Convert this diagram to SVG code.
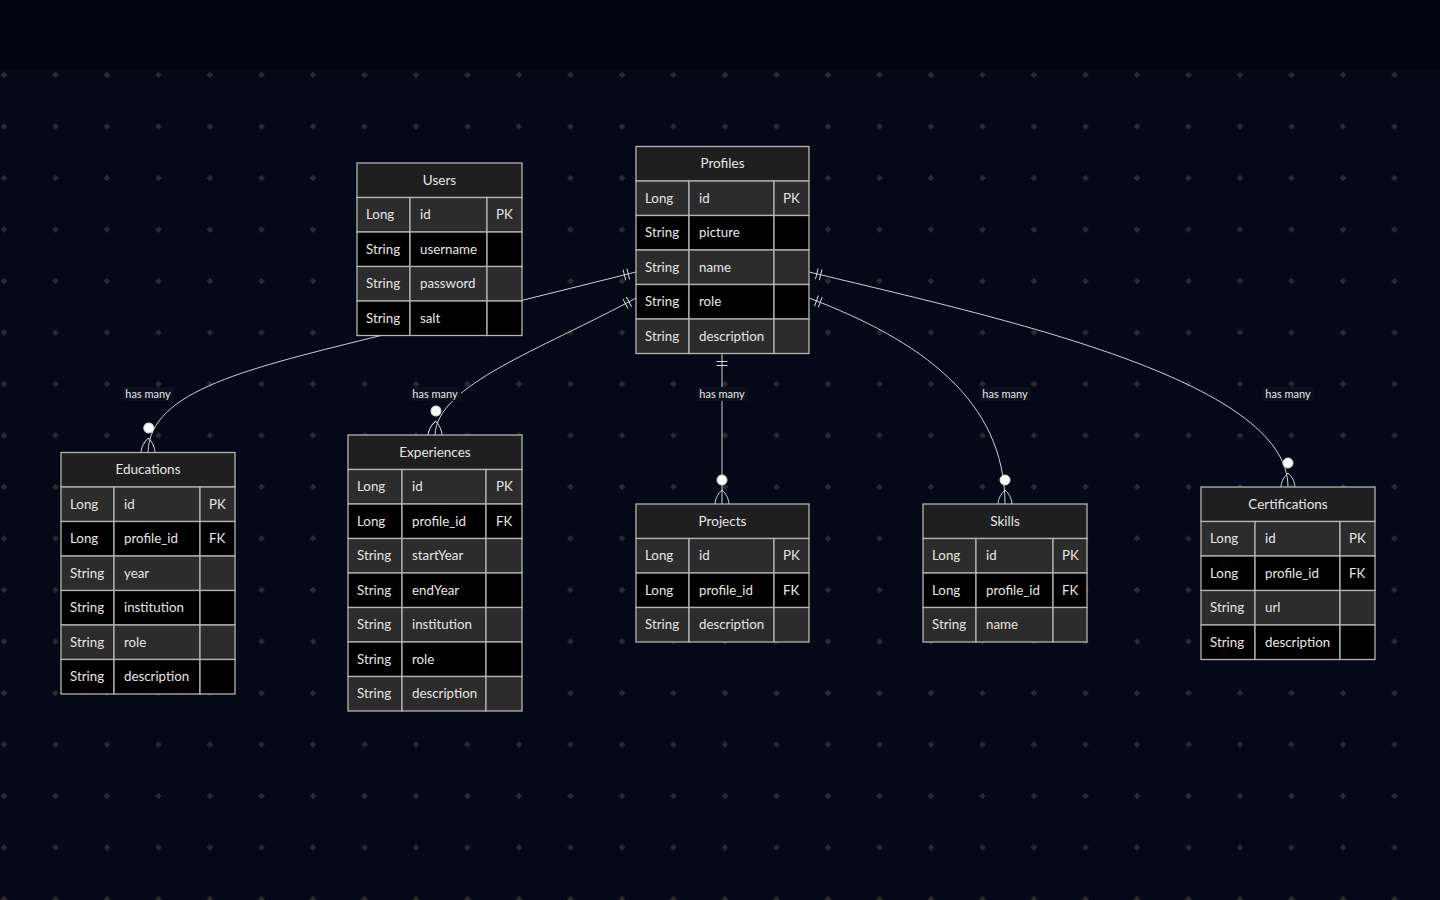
<svg xmlns="http://www.w3.org/2000/svg" width="1440" height="900" viewBox="0 0 1440 900">
<defs>
<style>
.hd{fill:#1f1f1f;stroke:#b4b4b4;stroke-width:1.3}
.o{fill:#2c2c2c;stroke:#b4b4b4;stroke-width:1.3}
.e{fill:#000;stroke:#b4b4b4;stroke-width:1.3}
text{font-family:"Lato","Open Sans","DejaVu Sans",sans-serif;fill:#e6e6e6}
.th{font-size:13.5px;text-anchor:middle}
.td{font-size:13.3px}
.lbl{font-size:11px;text-anchor:middle;fill:#e8e8e8}
.lb{fill:#0c0f1e}
.rel{fill:none;stroke:#cfcfcf;stroke-width:1;marker-start:url(#one);marker-end:url(#zmany)}
</style>
<pattern id="dots" x="-21.75" y="49.25" width="51.5" height="51.5" patternUnits="userSpaceOnUse">
<path d="M25.75,22.5 L29,25.75 L25.75,29 L22.5,25.75Z" fill="#2c2c2e"/>
</pattern>
<marker id="one" markerUnits="userSpaceOnUse" markerWidth="20" markerHeight="16" refX="0" refY="8" orient="auto" overflow="visible">
<path d="M8,2.5 L8,13.5 M12,2.5 L12,13.5" stroke="#d8d8d8" stroke-width="1" fill="none"/>
</marker>
<marker id="zmany" markerUnits="userSpaceOnUse" markerWidth="30" markerHeight="16" refX="24" refY="8" orient="auto" overflow="visible">
<path d="M24,1 C17,1.5 13,5 10,8 M24,15 C17,14.5 13,11 10,8" stroke="#d8d8d8" stroke-width="1" fill="none"/>
<circle cx="0" cy="8" r="5" fill="#ffffff" stroke="#d8d8d8" stroke-width="1"/>
</marker>
</defs>
<rect x="0" y="0" width="1440" height="900" fill="#050817"/>
<rect x="0" y="0" width="1440" height="70" fill="#03040f"/>
<rect x="0" y="70" width="1440" height="830" fill="url(#dots)"/>

<g id="connectors">
<path class="rel" d="M636,272 L383,335 C250,368 150,390 148,452"/>
<path class="rel" d="M636,298 C540,350 437,385 435,435"/>
<path class="rel" d="M722,353.5 L722,504"/>
<path class="rel" d="M809,298 C920,340 1005,400 1005,504"/>
<path class="rel" d="M809,272 C1000,318 1288,380 1288,487"/>
<rect class="lb" x="122" y="387" width="52" height="14"/><text class="lbl" x="148" y="398">has many</text>
<rect class="lb" x="409" y="387" width="52" height="14"/><text class="lbl" x="435" y="398">has many</text>
<rect class="lb" x="696" y="387" width="52" height="14"/><text class="lbl" x="722" y="398">has many</text>
<rect class="lb" x="979" y="387" width="52" height="14"/><text class="lbl" x="1005" y="398">has many</text>
<rect class="lb" x="1262" y="387" width="52" height="14"/><text class="lbl" x="1288" y="398">has many</text>
</g>

<g id="users">
<rect class="hd" x="357" y="163" width="165" height="34.5"/>
<text class="th" x="439.5" y="184.5">Users</text>
<rect class="o" x="357" y="197.5" width="53" height="34.5"/><rect class="o" x="410" y="197.5" width="77" height="34.5"/><rect class="o" x="487" y="197.5" width="35" height="34.5"/>
<text class="td" x="366" y="219">Long</text><text class="td" x="420" y="219">id</text><text class="td" x="496" y="219">PK</text>
<rect class="e" x="357" y="232" width="53" height="34.5"/><rect class="e" x="410" y="232" width="77" height="34.5"/><rect class="e" x="487" y="232" width="35" height="34.5"/>
<text class="td" x="366" y="253.5">String</text><text class="td" x="420" y="253.5">username</text>
<rect class="o" x="357" y="266.5" width="53" height="34.5"/><rect class="o" x="410" y="266.5" width="77" height="34.5"/><rect class="o" x="487" y="266.5" width="35" height="34.5"/>
<text class="td" x="366" y="288">String</text><text class="td" x="420" y="288">password</text>
<rect class="e" x="357" y="301" width="53" height="34.5"/><rect class="e" x="410" y="301" width="77" height="34.5"/><rect class="e" x="487" y="301" width="35" height="34.5"/>
<text class="td" x="366" y="322.5">String</text><text class="td" x="420" y="322.5">salt</text>
</g>

<g id="profiles">
<rect class="hd" x="636" y="146.5" width="173" height="34.5"/>
<text class="th" x="722.5" y="168">Profiles</text>
<rect class="o" x="636" y="181" width="53" height="34.5"/><rect class="o" x="689" y="181" width="85" height="34.5"/><rect class="o" x="774" y="181" width="35" height="34.5"/>
<text class="td" x="645" y="202.5">Long</text><text class="td" x="699" y="202.5">id</text><text class="td" x="783" y="202.5">PK</text>
<rect class="e" x="636" y="215.5" width="53" height="34.5"/><rect class="e" x="689" y="215.5" width="85" height="34.5"/><rect class="e" x="774" y="215.5" width="35" height="34.5"/>
<text class="td" x="645" y="237">String</text><text class="td" x="699" y="237">picture</text>
<rect class="o" x="636" y="250" width="53" height="34.5"/><rect class="o" x="689" y="250" width="85" height="34.5"/><rect class="o" x="774" y="250" width="35" height="34.5"/>
<text class="td" x="645" y="271.5">String</text><text class="td" x="699" y="271.5">name</text>
<rect class="e" x="636" y="284.5" width="53" height="34.5"/><rect class="e" x="689" y="284.5" width="85" height="34.5"/><rect class="e" x="774" y="284.5" width="35" height="34.5"/>
<text class="td" x="645" y="306">String</text><text class="td" x="699" y="306">role</text>
<rect class="o" x="636" y="319" width="53" height="34.5"/><rect class="o" x="689" y="319" width="85" height="34.5"/><rect class="o" x="774" y="319" width="35" height="34.5"/>
<text class="td" x="645" y="340.5">String</text><text class="td" x="699" y="340.5">description</text>
</g>

<g id="educations">
<rect class="hd" x="61" y="452.5" width="174" height="34.5"/>
<text class="th" x="148" y="474">Educations</text>
<rect class="o" x="61" y="487" width="53" height="34.5"/><rect class="o" x="114" y="487" width="86" height="34.5"/><rect class="o" x="200" y="487" width="35" height="34.5"/>
<text class="td" x="70" y="508.5">Long</text><text class="td" x="124" y="508.5">id</text><text class="td" x="209" y="508.5">PK</text>
<rect class="e" x="61" y="521.5" width="53" height="34.5"/><rect class="e" x="114" y="521.5" width="86" height="34.5"/><rect class="e" x="200" y="521.5" width="35" height="34.5"/>
<text class="td" x="70" y="543">Long</text><text class="td" x="124" y="543">profile_id</text><text class="td" x="209" y="543">FK</text>
<rect class="o" x="61" y="556" width="53" height="34.5"/><rect class="o" x="114" y="556" width="86" height="34.5"/><rect class="o" x="200" y="556" width="35" height="34.5"/>
<text class="td" x="70" y="577.5">String</text><text class="td" x="124" y="577.5">year</text>
<rect class="e" x="61" y="590.5" width="53" height="34.5"/><rect class="e" x="114" y="590.5" width="86" height="34.5"/><rect class="e" x="200" y="590.5" width="35" height="34.5"/>
<text class="td" x="70" y="612">String</text><text class="td" x="124" y="612">institution</text>
<rect class="o" x="61" y="625" width="53" height="34.5"/><rect class="o" x="114" y="625" width="86" height="34.5"/><rect class="o" x="200" y="625" width="35" height="34.5"/>
<text class="td" x="70" y="646.5">String</text><text class="td" x="124" y="646.5">role</text>
<rect class="e" x="61" y="659.5" width="53" height="34.5"/><rect class="e" x="114" y="659.5" width="86" height="34.5"/><rect class="e" x="200" y="659.5" width="35" height="34.5"/>
<text class="td" x="70" y="681">String</text><text class="td" x="124" y="681">description</text>
</g>

<g id="experiences">
<rect class="hd" x="348" y="435" width="174" height="34.5"/>
<text class="th" x="435" y="456.5">Experiences</text>
<rect class="o" x="348" y="469.5" width="54" height="34.5"/><rect class="o" x="402" y="469.5" width="84" height="34.5"/><rect class="o" x="486" y="469.5" width="36" height="34.5"/>
<text class="td" x="357" y="491">Long</text><text class="td" x="412" y="491">id</text><text class="td" x="496" y="491">PK</text>
<rect class="e" x="348" y="504" width="54" height="34.5"/><rect class="e" x="402" y="504" width="84" height="34.5"/><rect class="e" x="486" y="504" width="36" height="34.5"/>
<text class="td" x="357" y="525.5">Long</text><text class="td" x="412" y="525.5">profile_id</text><text class="td" x="496" y="525.5">FK</text>
<rect class="o" x="348" y="538.5" width="54" height="34.5"/><rect class="o" x="402" y="538.5" width="84" height="34.5"/><rect class="o" x="486" y="538.5" width="36" height="34.5"/>
<text class="td" x="357" y="560">String</text><text class="td" x="412" y="560">startYear</text>
<rect class="e" x="348" y="573" width="54" height="34.5"/><rect class="e" x="402" y="573" width="84" height="34.5"/><rect class="e" x="486" y="573" width="36" height="34.5"/>
<text class="td" x="357" y="594.5">String</text><text class="td" x="412" y="594.5">endYear</text>
<rect class="o" x="348" y="607.5" width="54" height="34.5"/><rect class="o" x="402" y="607.5" width="84" height="34.5"/><rect class="o" x="486" y="607.5" width="36" height="34.5"/>
<text class="td" x="357" y="629">String</text><text class="td" x="412" y="629">institution</text>
<rect class="e" x="348" y="642" width="54" height="34.5"/><rect class="e" x="402" y="642" width="84" height="34.5"/><rect class="e" x="486" y="642" width="36" height="34.5"/>
<text class="td" x="357" y="663.5">String</text><text class="td" x="412" y="663.5">role</text>
<rect class="o" x="348" y="676.5" width="54" height="34.5"/><rect class="o" x="402" y="676.5" width="84" height="34.5"/><rect class="o" x="486" y="676.5" width="36" height="34.5"/>
<text class="td" x="357" y="698">String</text><text class="td" x="412" y="698">description</text>
</g>

<g id="projects">
<rect class="hd" x="636" y="504" width="173" height="34.5"/>
<text class="th" x="722.5" y="525.5">Projects</text>
<rect class="o" x="636" y="538.5" width="53" height="34.5"/><rect class="o" x="689" y="538.5" width="85" height="34.5"/><rect class="o" x="774" y="538.5" width="35" height="34.5"/>
<text class="td" x="645" y="560">Long</text><text class="td" x="699" y="560">id</text><text class="td" x="783" y="560">PK</text>
<rect class="e" x="636" y="573" width="53" height="34.5"/><rect class="e" x="689" y="573" width="85" height="34.5"/><rect class="e" x="774" y="573" width="35" height="34.5"/>
<text class="td" x="645" y="594.5">Long</text><text class="td" x="699" y="594.5">profile_id</text><text class="td" x="783" y="594.5">FK</text>
<rect class="o" x="636" y="607.5" width="53" height="34.5"/><rect class="o" x="689" y="607.5" width="85" height="34.5"/><rect class="o" x="774" y="607.5" width="35" height="34.5"/>
<text class="td" x="645" y="629">String</text><text class="td" x="699" y="629">description</text>
</g>

<g id="skills">
<rect class="hd" x="923" y="504" width="164" height="34.5"/>
<text class="th" x="1005" y="525.5">Skills</text>
<rect class="o" x="923" y="538.5" width="53" height="34.5"/><rect class="o" x="976" y="538.5" width="77" height="34.5"/><rect class="o" x="1053" y="538.5" width="34" height="34.5"/>
<text class="td" x="932" y="560">Long</text><text class="td" x="986" y="560">id</text><text class="td" x="1062" y="560">PK</text>
<rect class="e" x="923" y="573" width="53" height="34.5"/><rect class="e" x="976" y="573" width="77" height="34.5"/><rect class="e" x="1053" y="573" width="34" height="34.5"/>
<text class="td" x="932" y="594.5">Long</text><text class="td" x="986" y="594.5">profile_id</text><text class="td" x="1062" y="594.5">FK</text>
<rect class="o" x="923" y="607.5" width="53" height="34.5"/><rect class="o" x="976" y="607.5" width="77" height="34.5"/><rect class="o" x="1053" y="607.5" width="34" height="34.5"/>
<text class="td" x="932" y="629">String</text><text class="td" x="986" y="629">name</text>
</g>

<g id="certifications">
<rect class="hd" x="1201" y="487" width="174" height="34.5"/>
<text class="th" x="1288" y="508.5">Certifications</text>
<rect class="o" x="1201" y="521.5" width="54" height="34.5"/><rect class="o" x="1255" y="521.5" width="85" height="34.5"/><rect class="o" x="1340" y="521.5" width="35" height="34.5"/>
<text class="td" x="1210" y="543">Long</text><text class="td" x="1265" y="543">id</text><text class="td" x="1349" y="543">PK</text>
<rect class="e" x="1201" y="556" width="54" height="34.5"/><rect class="e" x="1255" y="556" width="85" height="34.5"/><rect class="e" x="1340" y="556" width="35" height="34.5"/>
<text class="td" x="1210" y="577.5">Long</text><text class="td" x="1265" y="577.5">profile_id</text><text class="td" x="1349" y="577.5">FK</text>
<rect class="o" x="1201" y="590.5" width="54" height="34.5"/><rect class="o" x="1255" y="590.5" width="85" height="34.5"/><rect class="o" x="1340" y="590.5" width="35" height="34.5"/>
<text class="td" x="1210" y="612">String</text><text class="td" x="1265" y="612">url</text>
<rect class="e" x="1201" y="625" width="54" height="34.5"/><rect class="e" x="1255" y="625" width="85" height="34.5"/><rect class="e" x="1340" y="625" width="35" height="34.5"/>
<text class="td" x="1210" y="646.5">String</text><text class="td" x="1265" y="646.5">description</text>
</g>
</svg>
